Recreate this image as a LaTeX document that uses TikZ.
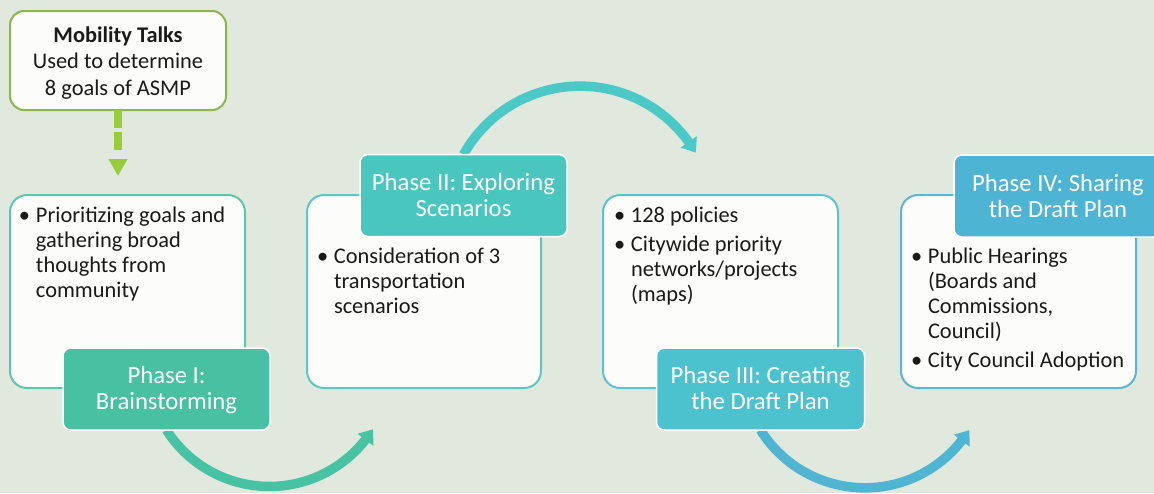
\documentclass[tikz,border=0pt]{standalone}
\usepackage{fontspec}
\setmainfont{Carlito}
\usetikzlibrary{arrows.meta,backgrounds,bending}
\definecolor{bgc}{HTML}{E1E9DF}
\definecolor{boxfill}{HTML}{FCFCFA}
\definecolor{mbord}{HTML}{8DB54C}
\definecolor{dgreen}{HTML}{9ACB3C}
\definecolor{bonec}{HTML}{5EC6AD}
\definecolor{btwoc}{HTML}{5DC8C3}
\definecolor{bthreec}{HTML}{5DC2CF}
\definecolor{bfourc}{HTML}{5BB5D3}
\definecolor{ponec}{HTML}{47C1A1}
\definecolor{ptwoc}{HTML}{49C7BE}
\definecolor{pthreec}{HTML}{4BC2CD}
\definecolor{pfourc}{HTML}{4EB4D3}
\definecolor{aonec}{HTML}{47C2A2}
\definecolor{atwoc}{HTML}{4BC9C7}
\definecolor{athreec}{HTML}{4FB5D2}
\definecolor{txtc}{HTML}{1A1A1A}
\newcommand{\bitem}{\par\hangindent=17pt\hangafter=1\noindent\makebox[17pt][l]{\textbullet}}
\tikzset{
  box/.style={draw, line width=2pt, fill=boxfill, rounded corners=17pt,
    minimum width=235pt, minimum height=193pt, inner sep=0pt, outer sep=0pt},
  lab/.style={draw=white, line width=1.5pt, rounded corners=8pt,
    minimum width=207pt, minimum height=82pt, inner sep=0pt, outer sep=0pt},
  txt/.style={inner sep=0pt, outer sep=0pt, text=txtc, anchor=base west,
    font=\fontsize{22.4}{25}\selectfont},
  ttl/.style={inner sep=0pt, outer sep=0pt, text=white, anchor=base,
    font=\fontsize{24.7}{26.5}\selectfont},
  flowarc/.style={line width=9.5pt, -{Triangle[length=13pt,width=19pt,bend]}},
  dasharr/.style={draw=dgreen, line width=7.5pt,
    dash pattern=on 18pt off 4pt on 18pt off 9pt,
    -{Triangle[length=17pt,width=18pt]}}
}
\begin{document}
\begin{tikzpicture}[x=1pt,y=-1pt]
\useasboundingbox (0,0) rectangle (1154,493);

% Mobility talks box
\node[box, draw=mbord, minimum width=216pt, minimum height=99pt, rounded corners=14pt] (m) at (118,60.5) {};
\node[txt, anchor=base] (mt) at (118,42) {\parbox[t]{210pt}{\centering\fontsize{22.4}{26.5}\selectfont\textbf{Mobility Talks}\\Used to determine\\8 goals of ASMP}};
\coordinate (mend) at (118,176);
\draw[dasharr] (m.south) -- (mend);

% content boxes
\node[box, draw=bonec] (b1) at (127.5,291.5) {};
\node[box, draw=btwoc, minimum width=234pt] (b2) at (424,291.5) {};
\node[box, draw=bthreec] (b3) at (720.5,291.5) {};
\node[box, draw=bfourc] (b4) at (1018.5,291.5) {};

\node[txt] (t1) at (19,222) {\parbox[t]{225pt}{\bitem Prioritizing goals and\newline gathering broad\newline thoughts from\newline community}};
\node[txt] (t2) at (317,263) {\parbox[t]{225pt}{\bitem Consideration of 3\newline transportation\newline scenarios}};
\node[txt] (t3) at (614,222) {\parbox[t]{225pt}{\parskip=4.5pt\bitem 128 policies\bitem Citywide priority\newline networks/projects\newline (maps)}};
\node[txt] (t4) at (911,263) {\parbox[t]{225pt}{\parskip=4pt\bitem Public Hearings\newline (Boards and\newline Commissions,\newline Council)\bitem City Council Adoption}};

% phase labels
\node[lab, fill=ponec] (p1) at (166.5,389) {};
\node[lab, fill=ptwoc] (p2) at (463.5,195.5) {};
\node[lab, fill=pthreec, minimum width=208pt] (p3) at (760.5,389) {};
\node[lab, fill=pfourc, minimum width=208pt] (p4) at (1058,196) {};

\node[ttl] (l1) at (166.5,383) {\parbox[t]{205pt}{\centering Phase I:\\Brainstorming}};
\node[ttl] (l2) at (463.5,190) {\parbox[t]{205pt}{\centering Phase II: Exploring\\Scenarios}};
\node[ttl] (l3) at (760.5,383) {\parbox[t]{205pt}{\centering Phase III: Creating\\the Draft Plan}};
\node[ttl] (l4) at (1058,191) {\parbox[t]{205pt}{\centering Phase IV: Sharing\\the Draft Plan}};

\begin{scope}[on background layer]
  \fill[bgc] (0,0) rectangle (1154,493);
  \draw[flowarc, draw=aonec] (p1.south) arc[start angle=147.5, end angle=32, radius=122];
  \draw[flowarc, draw=atwoc] (p2.north) arc[start angle=209.2, end angle=330, radius=133.5];
  \draw[flowarc, draw=athreec] (p3.south) arc[start angle=148, end angle=32, radius=123];
\end{scope}
\end{tikzpicture}
\end{document}
